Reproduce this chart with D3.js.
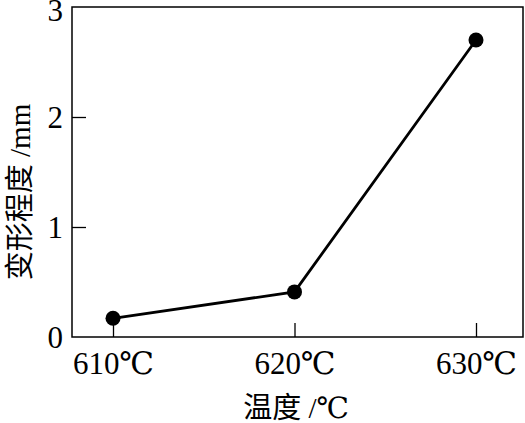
<!DOCTYPE html>
<html><head><meta charset="utf-8">
<script src="https://cdn.jsdelivr.net/npm/d3@7"></script>
<style>
html,body{margin:0;padding:0;background:#fff;}
svg{display:block;}
text{font-family:"Liberation Serif","DejaVu Serif","Noto Sans CJK SC",serif;fill:#000;}
</style></head>
<body>
<script>
const categories = ["610℃", "620℃", "630℃"];
const values = [0.17, 0.41, 2.70];
const yTicks = [0, 1, 2, 3];
const xTitle = "温度 /℃";
const yTitle = "变形程度 /mm";

const W = 525, H = 423;
const box = {left: 72, right: 523, top: 7, bottom: 337};

const svg = d3.select("body").append("svg").attr("width", W).attr("height", H);

const x = d3.scalePoint().domain(categories).range([113, 476]);
const y = d3.scaleLinear().domain([0, 3]).range([box.bottom, box.top]);

// frame
svg.append("rect")
  .attr("x", box.left).attr("y", box.top)
  .attr("width", box.right - box.left).attr("height", box.bottom - box.top)
  .attr("fill", "none").attr("stroke", "#000").attr("stroke-width", 1.5);

// y axis (inner ticks)
const yAxis = d3.axisLeft(y).tickValues(yTicks).tickSize(-14).tickPadding(24).tickFormat(d3.format("d"));
const gy = svg.append("g").attr("transform", `translate(${box.left},0)`).call(yAxis);
gy.select(".domain").remove();
gy.selectAll(".tick line").attr("stroke", "#000").attr("stroke-width", 1.3);
gy.selectAll(".tick text").attr("font-size", 31).attr("x", -9).attr("dy", "0.34em");
gy.selectAll(".tick").filter(d => d === 3).select("text").attr("dy", "0.45em");
gy.selectAll(".tick").filter(d => d === 0 || d === 3).select("line").remove();

// x axis (inner ticks)
const xAxis = d3.axisBottom(x).tickSize(-14).tickPadding(18);
const gx = svg.append("g").attr("transform", `translate(0,${box.bottom})`).call(xAxis);
gx.select(".domain").remove();
gx.selectAll(".tick line").attr("stroke", "#000").attr("stroke-width", 1.3);
gx.selectAll(".tick text").attr("font-size", 31).attr("y", 37).attr("dy", 0);

// line
const line = d3.line().x((d, i) => x(categories[i])).y(d => y(d));
svg.append("path").datum(values).attr("d", line)
  .attr("fill", "none").attr("stroke", "#000").attr("stroke-width", 2.8);

svg.selectAll("circle.pt").data(values).enter().append("circle")
  .attr("class", "pt")
  .attr("cx", (d, i) => x(categories[i])).attr("cy", d => y(d)).attr("r", 7.5).attr("fill", "#000");

// titles
svg.append("text").attr("x", 296).attr("y", 418).attr("text-anchor", "middle")
  .attr("font-size", 29).text(xTitle);
svg.append("text").attr("transform", `translate(30,192) rotate(-90)`).attr("text-anchor", "middle")
  .attr("font-size", 29).text(yTitle);
</script>
</body></html>
